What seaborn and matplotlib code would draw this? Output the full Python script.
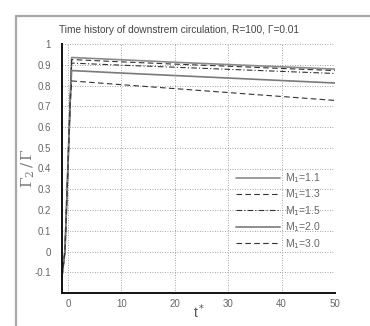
import matplotlib
matplotlib.use("Agg")
import matplotlib.pyplot as plt
from matplotlib.lines import Line2D
from matplotlib.ticker import MultipleLocator
import seaborn as sns
import pandas as pd

# ---- data ----
t = [-1.1, -0.55, 0.0, 0.4, 0.7, 10, 20, 30, 40, 50]
m11 = [-0.12, 0.0, 0.40, 0.70, 0.935, 0.924, 0.912, 0.901, 0.890, 0.879]
m13 = [-0.12, 0.0, 0.40, 0.70, 0.925, 0.914, 0.903, 0.893, 0.882, 0.872]
m15 = [-0.12, 0.0, 0.40, 0.70, 0.908, 0.898, 0.888, 0.878, 0.868, 0.858]
m20 = [-0.12, 0.0, 0.40, 0.70, 0.872, 0.860, 0.848, 0.836, 0.824, 0.812]
m30 = [-0.12, 0.0, 0.40, 0.70, 0.822, 0.804, 0.785, 0.766, 0.747, 0.728]
labels = ["M$_1$=1.1", "M$_1$=1.3", "M$_1$=1.5", "M$_1$=2.0", "M$_1$=3.0"]
series = [m11, m13, m15, m20, m30]
xticks = [0, 10, 20, 30, 40, 50]
yticks = [-0.1, 0, 0.1, 0.2, 0.3, 0.4, 0.5, 0.6, 0.7, 0.8, 0.9, 1]
ytick_labels = ["-0.1", "0", "0.1", "0.2", "0.3", "0.4", "0.5", "0.6", "0.7", "0.8", "0.9", "1"]
title = "Time history of downstrem circulation, R=100, \u0393=0.01"

sns.set_style("white")
plt.rcParams["font.family"] = ["Liberation Sans", "DejaVu Sans"]

styles = [
    dict(color="#8a8a8a", lw=1.2, ls="-"),
    dict(color="#333333", lw=0.8, ls=(0, (5, 3))),
    dict(color="#333333", lw=0.8, ls=(0, (5, 2, 1, 2))),
    dict(color="#7a7a7a", lw=1.2, ls="-"),
    dict(color="#333333", lw=0.8, ls=(0, (5, 3))),
]

fig = plt.figure(figsize=(3.7, 3.26), dpi=100)
ax = fig.add_axes([62 / 370, 1 - 293 / 326, (335 - 62) / 370, (293 - 44) / 326])

for lab, vals, st in zip(labels, series, styles):
    df = pd.DataFrame({"t": t, "g": vals})
    sns.lineplot(data=df, x="t", y="g", ax=ax, label=lab, sort=False,
                 color=st["color"], linewidth=st["lw"], linestyle=st["ls"])

ax.set_xlim(-1.1, 50)
ax.set_ylim(-0.2, 1.0)
ax.set_xticks(xticks)
ax.set_xticklabels([str(v) for v in xticks])
ax.set_yticks(yticks)
ax.set_yticklabels(ytick_labels)
ax.xaxis.set_minor_locator(MultipleLocator(5))
ax.yaxis.set_minor_locator(MultipleLocator(0.05))
ax.tick_params(axis="both", which="major", direction="in", length=6, width=1.2,
               labelsize=7, labelcolor="#666666", color="#111111")
ax.tick_params(axis="both", which="minor", direction="in", length=3, width=0.8, color="#111111")
ax.tick_params(axis="y", which="major", pad=8)
ax.tick_params(axis="x", which="major", pad=4)
for s in ["top", "right"]:
    ax.spines[s].set_visible(False)
for s in ["left", "bottom"]:
    ax.spines[s].set_linewidth(1.4)
    ax.spines[s].set_color("#111111")
ax.grid(True, which="major", linestyle=(0, (1, 2)), linewidth=0.6, color="#888888")
ax.set_axisbelow(True)

ax.set_xlabel("")
ax.set_ylabel("")
fig.text(28 / 370, 1 - 168 / 326, r"$\Gamma_2\,/\,\Gamma$", rotation=90, ha="center", va="center",
         fontsize=11, color="#777777", family=["DejaVu Serif"], math_fontfamily="dejavuserif")
fig.text(199 / 370, 1 - 312 / 326, r"t$^*$", ha="center", va="center", fontsize=10, color="#555555")
fig.text(59 / 370, 1 - 30 / 326, title, ha="left", va="center", fontsize=7.3, color="#444444")

leg = ax.legend(loc="upper left", bbox_to_anchor=(231 / 370, 1 - 166 / 326),
                bbox_transform=fig.transFigure, frameon=False, fontsize=7.5,
                handlelength=4.2, handletextpad=0.5, labelspacing=0.25, borderpad=0)
for txt in leg.get_texts():
    txt.set_color("#666666")

# outer grey frame
fig.add_artist(Line2D([16 / 370, 16 / 370], [0, 1 - 16 / 326], transform=fig.transFigure,
                      color="#a8a8a8", lw=1.6))
fig.add_artist(Line2D([16 / 370, 1], [1 - 16 / 326, 1 - 16 / 326], transform=fig.transFigure,
                      color="#a8a8a8", lw=1.6))

fig.savefig("out.png", dpi=100)
